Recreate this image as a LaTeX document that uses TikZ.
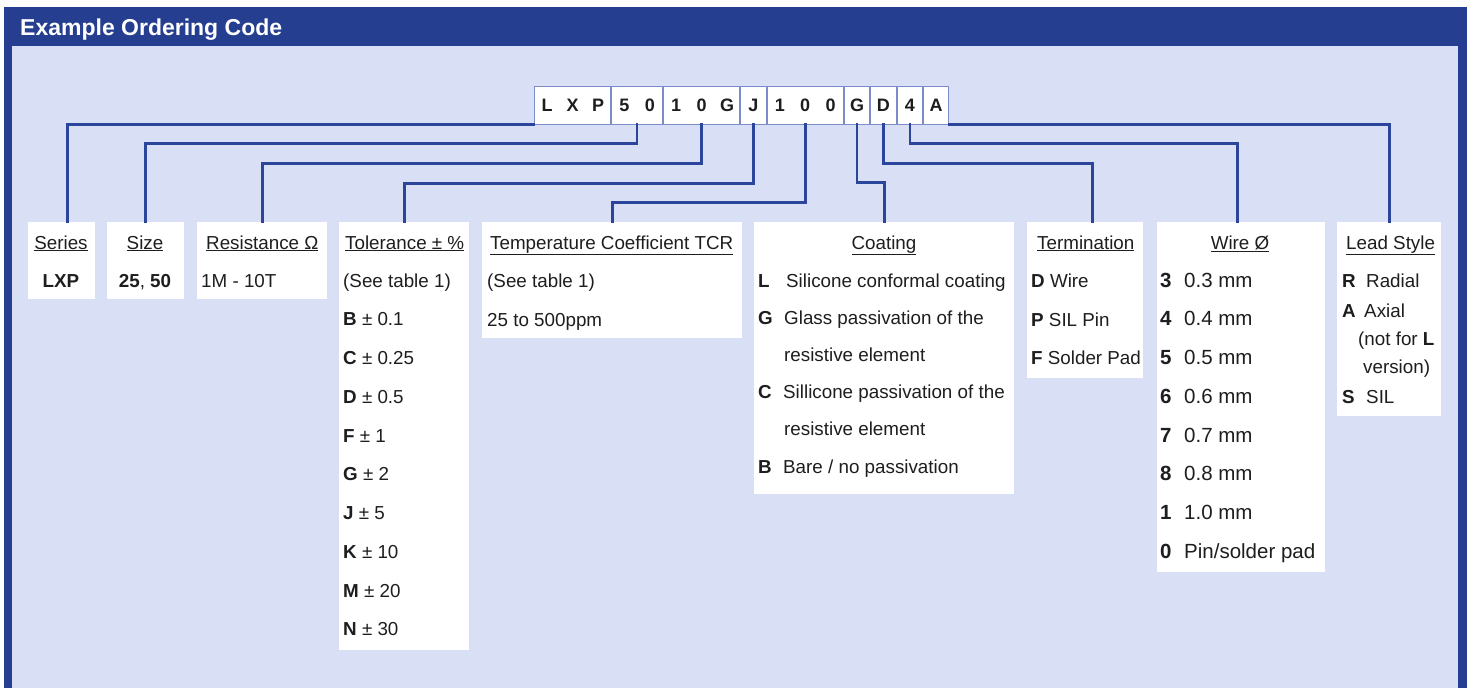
\documentclass[tikz,border=0pt]{standalone}
\usepackage{fontspec}
\setmainfont{Liberation Sans}
\definecolor{darkblue}{HTML}{253E90}
\definecolor{lightbg}{HTML}{D9DFF4}
\definecolor{linecol}{HTML}{2A4599}
\definecolor{grpline}{HTML}{7C8CCB}
\definecolor{txt}{HTML}{1E1E1E}
\newcommand{\cc}[1]{\makebox[25.4pt][c]{#1}}
\begin{document}
\begin{tikzpicture}[x=1pt,y=-1pt,
  wbox/.style={fill=white, draw=none, inner sep=0, anchor=north west},
  grp/.style={fill=white, draw=grpline, line width=1pt, inner sep=0, minimum height=38pt, anchor=west, font=\fontsize{18}{20}\selectfont\bfseries, text=txt},
  conn/.style={draw=linecol, line width=2.6pt, line cap=rect},
  lbl/.style={inner sep=0, anchor=base west, font=\fontsize{18.8}{22}\selectfont, text=txt},
  clbl/.style={lbl, anchor=base},
  wlbl/.style={lbl, font=\fontsize{20.5}{24}\selectfont}]
\useasboundingbox (0,0) rectangle (1473,688);
% frame
\fill[darkblue] (4,7) rectangle (1467,688);
\fill[lightbg] (12,46) rectangle (1458,688);
\node[inner sep=0, anchor=base west, text=white, font=\fontsize{23}{26}\selectfont\bfseries] (title) at (20,35) {Example Ordering Code};
% code groups
\node[grp] (g1) at (534,105) {\cc{L}\cc{X}\cc{P}};
\node[grp] (g2) at (g1.east) {\cc{5}\cc{0}};
\node[grp] (g3) at (g2.east) {\cc{1}\cc{0}\cc{G}};
\node[grp] (g4) at (g3.east) {\cc{J}};
\node[grp] (g5) at (g4.east) {\cc{1}\cc{0}\cc{0}};
\node[grp] (g6) at (g5.east) {\cc{G}};
\node[grp] (g7) at (g6.east) {\cc{D}};
\node[grp] (g8) at (g7.east) {\cc{4}};
\node[grp] (g9) at (g8.east) {\cc{A}};
% boxes
\node[wbox, minimum width=67pt, minimum height=77pt] (series) at (28,222) {};
\node[wbox, minimum width=77pt, minimum height=77pt] (size) at (107,222) {};
\node[wbox, minimum width=130pt, minimum height=77pt] (res) at (197,222) {};
\node[wbox, minimum width=130pt, minimum height=428pt] (tol) at (339,222) {};
\node[wbox, minimum width=260pt, minimum height=116pt] (tcr) at (482,222) {};
\node[wbox, minimum width=260pt, minimum height=272pt] (coat) at (754,222) {};
\node[wbox, minimum width=116pt, minimum height=156pt] (term) at (1027,222) {};
\node[wbox, minimum width=168pt, minimum height=350pt] (wire) at (1157,222) {};
\node[wbox, minimum width=104pt, minimum height=194pt] (lead) at (1337,222) {};
% connectors
\draw[conn] (g1.south west) -| ([xshift=6pt]series.north);
\draw[conn] (g2.south) -- ++(0,19) -| (size.north);
\draw[conn] (g3.south) -- ++(0,39) -| (res.north);
\draw[conn] (g4.south) -- ++(0,59) -| (tol.north);
\draw[conn] (g5.south) -- ++(0,78) -| (tcr.north);
\draw[conn] (g6.south) -- ++(0,58) -| (coat.north);
\draw[conn] (g7.south) -- ++(0,39) -| ([xshift=7pt]term.north);
\draw[conn] (g8.south) -- ++(0,19) -| ([xshift=-4pt]wire.north);
\draw[conn] (g9.south east) -| (lead.north);
% series
\node[clbl] (serH) at (61,249) {\underline{Series}};
\node[clbl] (serV) at (61,287) {\textbf{LXP}};
% size
\node[clbl] (sizH) at (145,249) {\underline{Size}};
\node[clbl] (sizV) at (145,287) {\textbf{25}, \textbf{50}};
% resistance
\node[lbl] (resH) at (206,249) {\underline{Resistance Ω}};
\node[lbl] (resV) at (201,287) {1M - 10T};
% tolerance
\node[lbl] (tolH) at (345,249) {\underline{Tolerance ± \%}};
\node[lbl] (tol0) at (343,287) {(See table 1)};
\foreach \k/\v [count=\i] in {B/0.1,C/0.25,D/0.5,F/1,G/2,J/5,K/10,M/20,N/30}
  \node[lbl] (tol\i) at (343,{287+38.75*\i}) {\textbf{\k} ± \v};
% tcr
\node[lbl] (tcrH) at (490,249) {\underline{Temperature Coefficient TCR}};
\node[lbl] (tcr1) at (487,287) {(See table 1)};
\node[lbl] (tcr2) at (487,326) {25 to 500ppm};
% coating
\node[clbl] (coaH) at (884,249) {\underline{Coating}};
\node[lbl] (coaL) at (758,287) {\textbf{L}};
\node[lbl] (coa1) at (786,287) {Silicone conformal coating};
\node[lbl] (coaG) at (758,324) {\textbf{G}};
\node[lbl] (coa2) at (784,324) {Glass passivation of the};
\node[lbl] (coa3) at (784,361) {resistive element};
\node[lbl] (coaC) at (758,398) {\textbf{C}};
\node[lbl] (coa4) at (783,398) {Sillicone passivation of the};
\node[lbl] (coa5) at (784,435) {resistive element};
\node[lbl] (coaB) at (758,473) {\textbf{B}};
\node[lbl] (coa6) at (783,473) {Bare / no passivation};
% termination
\node[lbl] (terH) at (1037,249) {\underline{Termination}};
\node[lbl] (ter1) at (1031,287) {\textbf{D} Wire};
\node[lbl] (ter2) at (1031,326) {\textbf{P} SIL Pin};
\node[lbl] (ter3) at (1031,364) {\textbf{F} Solder Pad};
% wire
\node[clbl] (wirH) at (1240,249) {\underline{Wire Ø}};
\foreach \k/\v [count=\i] in {3/0.3 mm,4/0.4 mm,5/0.5 mm,6/0.6 mm,7/0.7 mm,8/0.8 mm,1/1.0 mm,0/Pin\slash solder pad} {
  \node[wlbl] (wirK\i) at (1160,{248.25+38.75*\i}) {\textbf{\k}};
  \node[wlbl] (wirV\i) at (1184,{248.25+38.75*\i}) {\v};
}
% lead style
\node[lbl] (leaH) at (1346,249) {\underline{Lead Style}};
\node[lbl] (leaR) at (1342,287) {\textbf{R}};
\node[lbl] (lea1) at (1366,287) {Radial};
\node[lbl] (leaA) at (1342,317) {\textbf{A}};
\node[lbl] (lea2) at (1364,317) {Axial};
\node[lbl] (lea3) at (1358,345) {(not for \textbf{L}};
\node[lbl] (lea4) at (1363,373) {version)};
\node[lbl] (leaS) at (1342,403) {\textbf{S}};
\node[lbl] (lea5) at (1366,403) {SIL};
\end{tikzpicture}
\end{document}
